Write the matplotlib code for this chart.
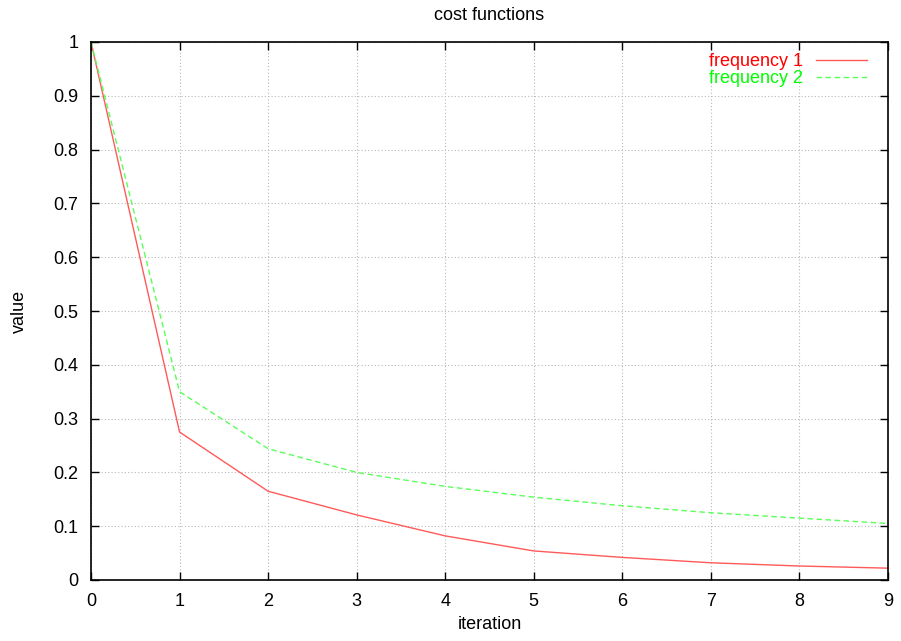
import matplotlib
matplotlib.use("Agg")
import matplotlib.pyplot as plt

iterations = [0, 1, 2, 3, 4, 5, 6, 7, 8, 9]
freq1 = [1.0, 0.275, 0.165, 0.121, 0.082, 0.054, 0.042, 0.032, 0.026, 0.022]
freq2 = [1.0, 0.350, 0.244, 0.200, 0.174, 0.154, 0.138, 0.125, 0.115, 0.105]
xticks = list(range(0, 10))
yticks = [0, 0.1, 0.2, 0.3, 0.4, 0.5, 0.6, 0.7, 0.8, 0.9, 1.0]
yticklabels = ["0", "0.1", "0.2", "0.3", "0.4", "0.5", "0.6", "0.7", "0.8", "0.9", "1"]

plt.rcParams['font.family'] = ['Liberation Sans', 'DejaVu Sans']
fig = plt.figure(figsize=(9.01, 6.41), dpi=100)
W, H = 901, 641
ax = fig.add_axes([91 / W, 1 - 580 / H, (888 - 91) / W, (580 - 42) / H])

ax.plot(iterations, freq1, color='#ff5a5a', lw=1.0, label='frequency 1')
ax.plot(iterations, freq2, color='#5aff5a', lw=1.0, linestyle=(0, (4, 2.5)), label='frequency 2')

ax.set_xlim(0, 9)
ax.set_ylim(0, 1)
ax.set_xticks(xticks)
ax.set_yticks(yticks)
ax.set_yticklabels(yticklabels)
ax.grid(True, color='#b8b8b8', linestyle=(0, (1, 2)), lw=0.8)
ax.tick_params(direction='in', length=6, width=1, top=True, right=True, labelsize=13, pad=9)
for s in ax.spines.values():
    s.set_linewidth(1.2)

ax.set_title('cost functions', fontsize=13, pad=16)
ax.set_xlabel('iteration', fontsize=13, labelpad=5)
fig.text(19 / W, 1 - 311 / H, 'value', rotation=90, ha='center', va='center', fontsize=13)

leg = ax.legend(loc='upper right', frameon=False, markerfirst=False,
                fontsize=13, handlelength=2.8, handletextpad=0.75,
                bbox_to_anchor=(1 - 14 / 797, 1 - 4 / 538), borderaxespad=0.0,
                labelspacing=0.0)
for txt, c in zip(leg.get_texts(), ['#ff0000', '#00ff00']):
    txt.set_color(c)

fig.savefig('out.png', dpi=100)
